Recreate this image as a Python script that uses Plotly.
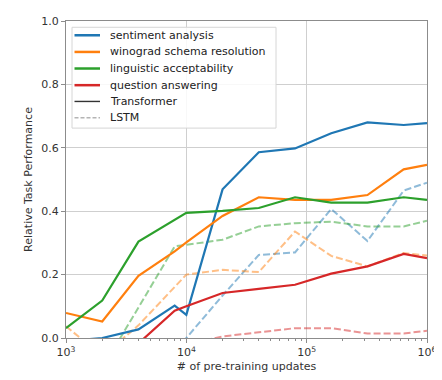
import plotly.graph_objects as go

steps = [1e3, 2e3, 4e3, 8e3, 1e4, 2e4, 4e4, 8e4, 1.6e5, 3.2e5, 6.4e5, 1e6]

tasks = ["sentiment analysis", "winograd schema resolution",
         "linguistic acceptability", "question answering"]
colors = ["#1f77b4", "#ff7f0e", "#2ca02c", "#d62728"]
faded = ["rgba(31,119,180,0.5)", "rgba(255,127,14,0.5)",
         "rgba(44,160,44,0.5)", "rgba(214,39,40,0.5)"]

transformer_sentiment = [-0.01, 0.0, 0.027, 0.102, 0.073, 0.469, 0.586, 0.598, 0.646, 0.680, 0.672, 0.678]
transformer_winograd = [0.079, 0.052, 0.196, 0.273, 0.302, 0.385, 0.444, 0.436, 0.436, 0.451, 0.532, 0.546]
transformer_linguistic = [0.031, 0.118, 0.304, 0.373, 0.395, 0.401, 0.410, 0.444, 0.427, 0.427, 0.444, 0.436]
transformer_qa = [-0.05, -0.03, -0.017, 0.086, 0.100, 0.142, 0.155, 0.168, 0.203, 0.226, 0.265, 0.252]

lstm_sentiment = [-0.08, -0.08, -0.06, -0.03, 0.0, 0.134, 0.262, 0.270, 0.407, 0.306, 0.465, 0.490]
lstm_winograd = [0.037, -0.057, 0.040, 0.160, 0.200, 0.215, 0.208, 0.336, 0.259, 0.226, 0.268, 0.260]
lstm_linguistic = [-0.10, -0.095, 0.096, 0.289, 0.294, 0.310, 0.352, 0.362, 0.367, 0.352, 0.352, 0.370]
lstm_qa = [-0.05, -0.05, -0.04, -0.03, -0.02, 0.005, 0.018, 0.031, 0.031, 0.014, 0.014, 0.023]

transformer = [transformer_sentiment, transformer_winograd, transformer_linguistic, transformer_qa]
lstm = [lstm_sentiment, lstm_winograd, lstm_linguistic, lstm_qa]

legend_labels = tasks + ["Transformer", "LSTM"]
legend_colors = colors + ["#333333", "#b4b4b4"]

y_ticks = [0.0, 0.2, 0.4, 0.6, 0.8, 1.0]
x_ticks = [1e3, 1e4, 1e5, 1e6]
x_ticktext = ["10<sup>3</sup>", "10<sup>4</sup>", "10<sup>5</sup>", "10<sup>6</sup>"]
x_minor = [m * 10 ** e for e in (3, 4, 5) for m in range(2, 10)]

fig = go.Figure()

for i in range(4):
    fig.add_trace(go.Scatter(x=steps, y=lstm[i], mode="lines",
                             line=dict(color=faded[i], width=2, dash="7px,3px"),
                             showlegend=False, hoverinfo="skip"))
for i in range(4):
    fig.add_trace(go.Scatter(x=steps, y=transformer[i], mode="lines",
                             line=dict(color=colors[i], width=2.2),
                             name=tasks[i], showlegend=False))

# manual legend (plot area in page px: 66..427 wide, 20.7..338.3 tall)
L, R, T, B = 66.0, 427.0, 20.7, 338.3
def px(x):
    return (x - L) / (R - L)
def py(y):
    return (B - y) / (B - T)

shapes = [dict(type="rect", xref="paper", yref="paper",
               x0=px(72), x1=px(276), y0=py(128), y1=py(27),
               line=dict(color="#d6d6d6", width=1), fillcolor="rgba(255,255,255,0.85)",
               layer="above")]
annotations = []
rows = [35, 51.7, 68.3, 85, 101.3, 117.7]
for k, lab in enumerate(legend_labels):
    yk = rows[k]
    if k < 4:
        ln = dict(color=legend_colors[k], width=2.5)
    elif k == 4:
        ln = dict(color=legend_colors[k], width=1.4)
    else:
        ln = dict(color=legend_colors[k], width=1.4, dash="4px,2px")
    shapes.append(dict(type="line", xref="paper", yref="paper",
                       x0=px(74.5), x1=px(100), y0=py(yk), y1=py(yk),
                       line=ln, layer="above"))
    annotations.append(dict(xref="paper", yref="paper", x=px(107.5), y=py(yk),
                            xanchor="left", yanchor="middle", showarrow=False,
                            text=lab, font=dict(family="DejaVu Sans", size=11, color="#222222")))

# the page body has an 8px margin, so the figure is shrunk/shifted to compensate
fig.update_layout(
    width=434, height=372,
    margin=dict(l=58, r=15, t=13, b=42, autoexpand=False),
    paper_bgcolor="white", plot_bgcolor="white",
    font=dict(family="DejaVu Sans", size=11, color="#333333"),
    showlegend=False,
    shapes=shapes, annotations=annotations,
)
fig.update_xaxes(
    type="log", range=[3, 6], tickvals=x_ticks, ticktext=x_ticktext,
    showgrid=True, gridcolor="#cfcfcf", gridwidth=1,
    showline=True, linecolor="#8c8c8c", linewidth=1.2, mirror=True,
    ticks="outside", ticklen=4, tickcolor="#8c8c8c",
    minor=dict(tickvals=x_minor, ticks="outside", ticklen=2, tickcolor="#8c8c8c", showgrid=False),
    zeroline=False, automargin=False,
    title=dict(text="# of pre-training updates", font=dict(size=11, color="#333333"), standoff=4),
    tickfont=dict(size=11, color="#333333"),
)
fig.update_yaxes(
    range=[0, 1], tickvals=y_ticks, ticktext=[f"{v:.1f}" for v in y_ticks],
    showgrid=True, gridcolor="#cfcfcf", gridwidth=1,
    showline=True, linecolor="#8c8c8c", linewidth=1.2, mirror=True,
    ticks="outside", ticklen=4, tickcolor="#8c8c8c",
    zeroline=False, automargin=False,
    title=dict(text="Relative Task Performance", font=dict(size=11, color="#333333"), standoff=6),
    tickfont=dict(size=11, color="#333333"),
)

fig.write_html("out.html")
